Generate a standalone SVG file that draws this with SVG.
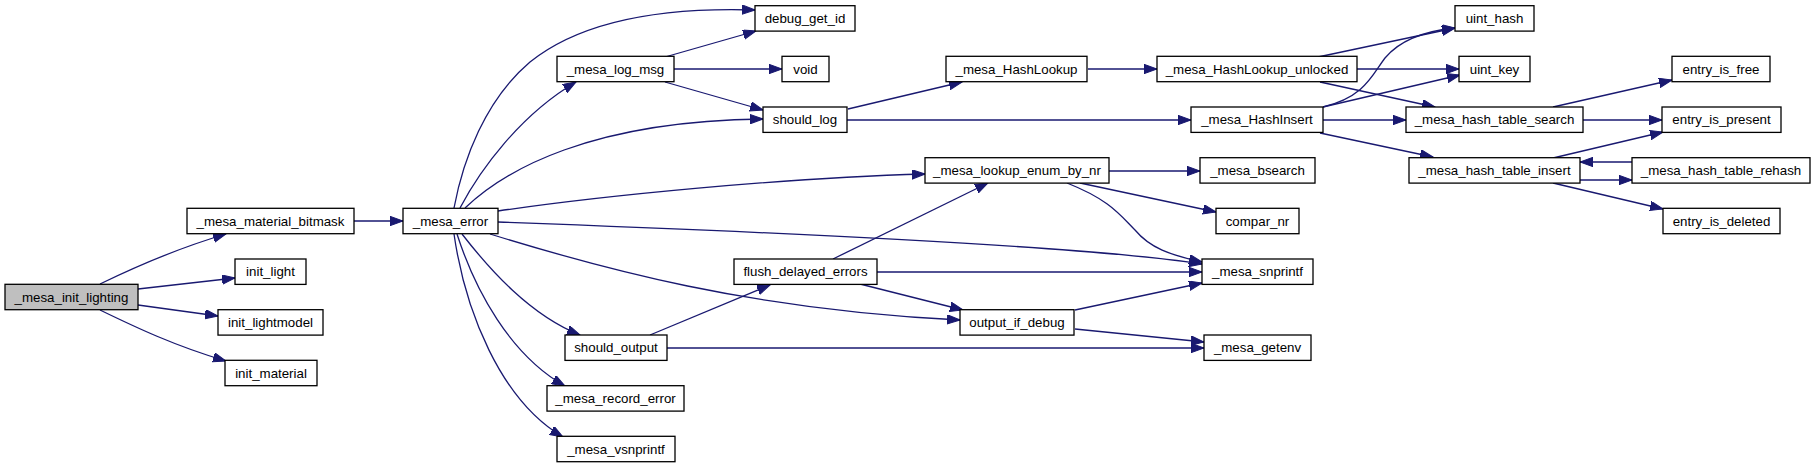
<svg xmlns="http://www.w3.org/2000/svg" width="1816" height="468" viewBox="0 0 1816 468">
<style>
.n rect{fill:#ffffff;stroke:#000000;stroke-width:1.3}
.n text{font-family:"Liberation Sans",Arial,Helvetica,sans-serif;font-size:13.3px;fill:#000000;text-anchor:middle}
.e path{fill:none;stroke:#191970;stroke-width:1.3;marker-end:url(#a)}
</style>
<defs>
<marker id="a" markerWidth="14" markerHeight="10" refX="13" refY="4.7" orient="auto" markerUnits="userSpaceOnUse">
<path d="M0,0 L13,4.7 L0,9.4 z" fill="#191970" stroke="#191970" stroke-width="1"/>
</marker>
</defs>
<rect x="0" y="0" width="1816" height="468" fill="#ffffff"/>
<g id="edges" class="e">
<path d="M100,284 C135,267 175,249 226,234"/>
<path d="M138,289 L235,278"/>
<path d="M138,305 L218,316"/>
<path d="M100,310 C135,327 175,346 226,361"/>
<path d="M354,221 L403,221"/>
<path d="M454,208 C463,160 485,100 530,62 C580,22 660,7 755,10"/>
<path d="M460,208 C480,170 520,115 576,82"/>
<path d="M465,208 C505,170 590,121 763,119"/>
<path d="M498,211 C600,196 780,178 925,174"/>
<path d="M498,222 C800,233 1100,248 1202,264"/>
<path d="M490,234 C600,268 750,310 960,320"/>
<path d="M462,234 C490,270 530,315 580,335"/>
<path d="M457,234 C475,290 510,355 565,386"/>
<path d="M454,234 C465,310 500,400 563,437"/>
<path d="M665,57 L756,31"/>
<path d="M674,69 L782,69"/>
<path d="M665,82 L763,110"/>
<path d="M848,109 L962,82"/>
<path d="M847,120 L1191,120"/>
<path d="M1088,69 L1157,69"/>
<path d="M1318,57 L1455,28"/>
<path d="M1357,69 L1459,69"/>
<path d="M1320,82 L1435,107"/>
<path d="M1323,107 C1365,97 1372,75 1385,58 C1400,40 1425,31 1455,28"/>
<path d="M1323,107 L1460,75"/>
<path d="M1323,120 L1406,120"/>
<path d="M1320,133 L1433,157"/>
<path d="M1109,171 L1200,171"/>
<path d="M1080,183 L1216,212"/>
<path d="M1067,183 C1110,200 1120,215 1135,230 C1150,248 1170,255 1202,262"/>
<path d="M833,259 L988,183"/>
<path d="M877,272 L1202,272"/>
<path d="M860,284 L963,310"/>
<path d="M650,335 L770,285"/>
<path d="M667,348 L1204,348"/>
<path d="M1075,310 L1202,283"/>
<path d="M1075,329 L1204,342"/>
<path d="M1553,107 L1672,80"/>
<path d="M1583,120 L1662,120"/>
<path d="M1553,158 L1663,132"/>
<path d="M1580,180 L1632,180"/>
<path d="M1632,162 L1580,162"/>
<path d="M1553,183 L1663,209"/>
</g>
<g id="n0" class="n"><rect x="5" y="284.3" width="133" height="25.4" style="fill:#bfbfbf"/><text x="71.5" y="301.6">_mesa_init_lighting</text></g>
<g id="n1" class="n"><rect x="187" y="208.3" width="167" height="25.4"/><text x="270.5" y="225.6">_mesa_material_bitmask</text></g>
<g id="n2" class="n"><rect x="403" y="208.3" width="95" height="25.4"/><text x="450.5" y="225.6">_mesa_error</text></g>
<g id="n3" class="n"><rect x="235" y="259" width="71" height="25.4"/><text x="270.5" y="276.3">init_light</text></g>
<g id="n4" class="n"><rect x="218" y="309.7" width="105" height="25.4"/><text x="270.5" y="327">init_lightmodel</text></g>
<g id="n5" class="n"><rect x="225" y="360.3" width="92" height="25.4"/><text x="271" y="377.6">init_material</text></g>
<g id="n6" class="n"><rect x="755" y="5.7" width="100" height="25.4"/><text x="805" y="23">debug_get_id</text></g>
<g id="n7" class="n"><rect x="557" y="56.3" width="117" height="25.4"/><text x="615.5" y="73.6">_mesa_log_msg</text></g>
<g id="n8" class="n"><rect x="782" y="56.3" width="47" height="25.4"/><text x="805.5" y="73.6">void</text></g>
<g id="n9" class="n"><rect x="763" y="107" width="84" height="25.4"/><text x="805" y="124.3">should_log</text></g>
<g id="n10" class="n"><rect x="925" y="157.7" width="184" height="25.4"/><text x="1017" y="175">_mesa_lookup_enum_by_nr</text></g>
<g id="n11" class="n"><rect x="734" y="259" width="143" height="25.4"/><text x="805.5" y="276.3">flush_delayed_errors</text></g>
<g id="n12" class="n"><rect x="565" y="335" width="102" height="25.4"/><text x="616" y="352.3">should_output</text></g>
<g id="n13" class="n"><rect x="547" y="385.7" width="137" height="25.4"/><text x="615.5" y="403">_mesa_record_error</text></g>
<g id="n14" class="n"><rect x="557" y="436.3" width="118" height="25.4"/><text x="616" y="453.6">_mesa_vsnprintf</text></g>
<g id="n15" class="n"><rect x="960" y="309.7" width="114" height="25.4"/><text x="1017" y="327">output_if_debug</text></g>
<g id="n16" class="n"><rect x="1202" y="259" width="111" height="25.4"/><text x="1257.5" y="276.3">_mesa_snprintf</text></g>
<g id="n17" class="n"><rect x="1204" y="335" width="107" height="25.4"/><text x="1257.5" y="352.3">_mesa_getenv</text></g>
<g id="n18" class="n"><rect x="946" y="56.3" width="141" height="25.4"/><text x="1016.5" y="73.6">_mesa_HashLookup</text></g>
<g id="n19" class="n"><rect x="1157" y="56.3" width="200" height="25.4"/><text x="1257" y="73.6">_mesa_HashLookup_unlocked</text></g>
<g id="n20" class="n"><rect x="1191" y="107" width="132" height="25.4"/><text x="1257" y="124.3">_mesa_HashInsert</text></g>
<g id="n21" class="n"><rect x="1200" y="157.7" width="115" height="25.4"/><text x="1257.5" y="175">_mesa_bsearch</text></g>
<g id="n22" class="n"><rect x="1216" y="208.3" width="83" height="25.4"/><text x="1257.5" y="225.6">compar_nr</text></g>
<g id="n23" class="n"><rect x="1455" y="5.7" width="79" height="25.4"/><text x="1494.5" y="23">uint_hash</text></g>
<g id="n24" class="n"><rect x="1459" y="56.3" width="71" height="25.4"/><text x="1494.5" y="73.6">uint_key</text></g>
<g id="n25" class="n"><rect x="1672" y="56.3" width="98" height="25.4"/><text x="1721" y="73.6">entry_is_free</text></g>
<g id="n26" class="n"><rect x="1406" y="107" width="177" height="25.4"/><text x="1494.5" y="124.3">_mesa_hash_table_search</text></g>
<g id="n27" class="n"><rect x="1662" y="107" width="119" height="25.4"/><text x="1721.5" y="124.3">entry_is_present</text></g>
<g id="n28" class="n"><rect x="1409" y="157.7" width="171" height="25.4"/><text x="1494.5" y="175">_mesa_hash_table_insert</text></g>
<g id="n29" class="n"><rect x="1632" y="157.7" width="178" height="25.4"/><text x="1721" y="175">_mesa_hash_table_rehash</text></g>
<g id="n30" class="n"><rect x="1663" y="208.3" width="117" height="25.4"/><text x="1721.5" y="225.6">entry_is_deleted</text></g>
</svg>
